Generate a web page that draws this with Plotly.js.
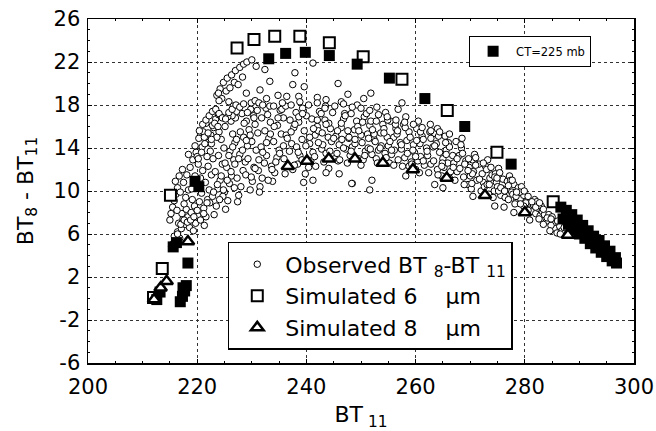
<!DOCTYPE html>
<html>
<head>
<meta charset="utf-8">
<script src="https://cdn.plot.ly/plotly-3.0.1.min.js"></script>
<style>html,body{margin:0;padding:0;background:#fff;}#chart{width:656px;height:431px;}</style>
</head>
<body>
<div id="chart"></div>
<script>
// Observed BT8-BT11
const obsX = [
215.3,215.6,215.9,216.2,215.8,216.4,216.8,217.1,216.6,217.4,
217.8,217.2,218.0,217.6,218.3,218.6,217.9,218.9,218.4,219.1,
215.0,215.2,215.5,215.8,216.1,216.4,216.0,216.7,216.3,216.9,
219.3,219.7,220.1,219.5,220.4,220.8,219.9,220.6,221.0,220.2,
221.3,221.6,221.2,221.9,222.2,221.5,222.6,222.0,222.9,222.4,
217.5,218.1,218.7,219.2,219.8,217.3,218.4,219.6,220.3,221.1,
222.0,222.5,223.0,221.6,220.9,223.4,222.8,221.3,220.0,223.9,
223.1,223.5,222.8,223.8,224.2,223.3,224.6,223.9,224.9,224.4,
225.2,225.6,225.0,225.9,226.3,225.4,226.7,226.0,226.9,226.5,
224.0,225.1,226.2,222.6,223.6,227.0,227.4,224.7,221.8,226.8,
227.6,228.0,227.3,228.4,228.8,227.8,229.2,228.5,229.5,229.0,
228.2,229.7,230.1,228.9,230.4,229.3,230.8,230.0,231.1,230.6,
231.5,231.9,231.2,232.3,232.7,231.7,233.1,232.4,233.4,232.9,
230.3,231.0,231.8,232.6,233.3,227.2,226.4,225.6,229.8,231.4,
233.8,234.2,233.6,234.6,235.0,234.0,235.4,234.7,235.8,235.2,
236.1,236.5,235.9,236.9,237.3,236.3,237.7,237.0,238.1,237.5,
238.4,238.8,238.2,239.2,239.6,238.6,240.0,239.3,240.4,239.8,
240.8,241.2,240.6,241.6,242.0,241.0,242.4,241.7,242.8,242.2,
243.2,243.6,243.0,244.0,244.4,243.4,244.8,244.1,245.2,244.6,
245.6,246.0,245.4,246.4,246.8,245.8,247.2,246.5,247.6,247.0,
248.0,248.4,247.8,248.8,249.2,248.2,249.6,248.9,250.0,249.4,
250.4,250.8,250.2,251.2,251.6,250.6,252.0,251.3,252.4,251.8,
252.8,253.2,252.6,253.6,254.0,253.0,254.4,253.7,254.8,254.2,
255.2,255.6,255.0,256.0,256.4,255.4,256.8,256.1,257.2,256.6,
257.6,258.0,257.4,258.4,258.8,257.8,259.2,258.5,259.6,259.0,
260.0,260.4,259.8,260.8,261.2,260.2,261.6,260.9,262.0,261.4,
262.4,262.8,262.2,263.2,263.6,262.6,264.0,263.3,264.4,263.8,
264.8,265.2,265.0,265.6,266.0,265.4,266.4,265.9,266.8,266.2,
267.2,267.6,267.0,268.0,268.4,267.4,268.8,268.1,269.2,268.6,
269.6,270.0,269.8,270.4,270.8,270.2,271.2,270.6,271.6,271.0,
272.0,272.4,272.2,272.8,273.2,272.6,273.6,273.0,274.0,273.4,
274.4,274.8,274.6,275.2,275.6,275.0,276.0,275.4,276.4,275.8,
276.8,277.2,277.0,277.6,278.0,277.4,278.4,277.8,278.8,278.2,
279.2,279.6,279.4,280.0,280.4,279.8,280.8,280.2,281.2,280.6,
281.6,282.0,281.8,282.4,282.8,282.2,283.2,282.6,283.6,283.0,
284.0,284.4,285.2,285.6,286.0,286.4,286.8,285.9,287.2,284.8,
223.6,224.2,224.8,225.5,226.3,227.0,227.8,228.5,229.1,230.0,
224.5,225.3,226.0,226.8,227.5,228.3,225.8,224.0,226.6,223.9,
229.0,231.5,232.4,233.3,234.8,236.4,237.9,238.6,239.6,242.0,
245.8,247.6,249.3,250.5,251.8,237.5,241.2,243.5,230.8,246.4,
254.5,256.8,258.2,260.5,262.7,264.0,266.2,268.5,252.9,257.5,
239.5,241.2,243.6,248.4,251.6,252.0,248.3,246.0,258.2,263.5,
274.5,278.0,283.4,284.6,285.0,286.5,276.2,265.0,270.5,280.9,
219.0,219.6,220.2,220.8,221.4,222.0,222.6,223.2,223.8,224.4,
222.3,223.0,223.7,224.4,225.1,225.8,226.5,227.2,227.9,228.6,
224.1,224.8,225.5,226.2,226.9,227.6,228.3,229.0,229.7,230.4,
229.9,230.6,231.3,232.0,232.7,233.4,234.1,234.8,235.5,236.2,
233.0,233.7,234.4,235.1,235.8,236.5,237.2,237.9,238.6,239.3,
237.8,238.5,239.2,239.9,240.6,241.3,242.0,242.7,243.4,244.1,
241.5,242.2,242.9,243.6,244.3,245.0,245.7,246.4,247.1,247.8,
246.1,246.8,247.5,248.2,248.9,249.6,250.3,251.0,251.7,252.4,
250.0,250.7,251.4,252.1,252.8,253.5,254.2,254.9,255.6,256.3,
254.6,255.3,256.0,256.7,257.4,258.1,258.8,259.5,260.2,260.9,
259.3,260.0,260.7,261.4,262.1,262.8,263.5,264.2,264.9,265.6,
264.1,264.8,265.5,266.2,266.9,267.6,268.3,269.0,269.7,270.4,
268.9,269.6,270.3,271.0,271.7,272.4,273.1,273.8,274.5,275.2,
273.5,274.2,274.9,275.6,276.3,277.0,277.7,278.4,279.1,279.8,
278.5,279.2,279.9,280.6,281.3,282.0,282.7,283.4,284.1,284.8,
216.4,217.0,217.6,218.2,218.8,219.4,220.0,220.6,221.2,221.8,
220.4,221.0,221.6,222.2,222.8,223.4,224.0,224.6,225.2,225.8,
226.4,227.1,227.8,228.5,229.2,229.9,230.6,231.3,232.0,232.7,
234.0,235.6,237.2,238.8,240.4,242.0,243.6,245.2,246.8,248.4,
250.0,251.6,253.2,254.8,256.4,258.0,259.6,261.2,262.8,264.4
];
const obsY = [
4.8,5.1,4.9,5.4,5.8,6.2,5.6,6.5,7.0,7.4,
6.9,7.9,8.3,8.8,7.6,6.6,9.4,8.0,10.1,9.2,
7.3,7.9,8.5,9.1,9.7,10.3,10.9,11.4,8.2,9.9,
6.3,7.0,7.7,8.6,9.0,9.8,10.6,11.2,11.9,12.5,
6.8,7.6,8.4,9.2,10.1,10.8,11.5,12.3,13.0,13.7,
10.8,11.5,12.2,12.9,13.6,12.0,13.4,14.2,14.9,15.5,
14.5,15.2,15.9,16.3,14.1,16.7,16.1,15.0,13.2,17.1,
7.8,8.6,9.5,10.2,11.0,11.8,12.5,13.3,14.0,14.8,
8.3,9.1,9.9,10.7,11.4,12.2,12.9,13.7,14.5,15.3,
15.5,16.0,16.5,14.4,15.0,16.8,9.0,9.5,13.2,10.3,
9.6,10.4,11.2,11.9,12.7,13.4,14.2,15.0,15.7,16.5,
17.2,10.1,10.9,11.5,12.2,13.0,13.8,14.6,15.4,16.2,
10.4,11.2,11.9,12.6,13.3,14.1,14.9,15.6,16.4,17.1,
17.0,17.5,16.8,17.7,17.9,17.4,17.0,16.9,17.6,9.9,
10.9,11.7,12.3,13.1,13.8,14.6,15.3,16.1,16.8,17.5,
11.6,12.3,13.0,13.7,14.4,15.2,15.9,16.6,17.3,12.0,
12.5,13.3,14.1,14.8,15.6,16.4,17.0,17.7,12.2,11.6,
12.8,13.6,14.4,15.2,16.0,16.7,17.4,12.3,13.9,15.6,
12.7,13.5,14.3,15.0,15.8,16.6,17.3,12.1,13.0,14.6,
13.5,14.3,15.1,15.9,16.7,12.8,13.9,14.8,15.6,17.2,
13.3,14.1,14.9,15.7,16.5,17.2,13.0,14.4,15.2,16.0,
12.9,13.7,14.5,15.3,16.1,16.9,13.4,14.0,14.8,16.5,
13.0,13.8,14.6,15.4,16.2,12.6,13.5,14.2,15.0,15.8,
12.6,13.4,14.2,15.0,15.8,16.5,12.9,13.8,14.5,15.3,
12.3,13.1,13.9,14.7,15.5,16.2,12.7,13.5,14.3,15.0,
12.0,12.8,13.6,14.4,15.1,15.8,12.4,13.2,14.0,14.8,
11.7,12.5,13.3,14.1,14.8,15.5,12.0,12.8,13.6,14.4,
11.4,12.2,13.0,13.8,14.5,15.1,11.8,12.6,13.3,14.1,
11.0,11.8,12.6,13.3,14.0,14.6,11.3,12.1,12.8,13.5,
10.6,11.4,12.2,12.9,13.4,10.2,11.0,11.8,12.5,13.1,
10.0,10.8,11.6,12.3,12.9,10.4,11.2,12.0,11.5,9.7,
10.0,10.8,11.6,12.1,9.6,10.4,11.1,11.7,9.4,10.2,
10.9,11.4,9.2,9.9,10.6,11.0,9.0,9.7,10.3,8.8,
9.3,9.9,10.4,8.5,9.1,9.6,8.3,8.9,8.1,9.5,
8.7,7.9,9.2,8.4,7.7,9.0,8.1,7.4,7.8,8.6,
7.2,7.8,7.0,6.5,7.2,6.7,6.3,6.1,6.6,6.8,
18.9,19.5,20.1,20.5,20.8,21.2,21.5,21.8,22.0,22.2,
18.6,19.3,19.6,20.1,19.9,20.6,18.3,18.4,17.9,19.1,
19.1,19.4,21.3,20.2,18.9,18.8,21.0,18.8,19.7,18.7,
20.0,19.0,18.0,18.6,19.1,19.9,21.9,17.9,21.6,18.3,
17.3,17.6,16.9,16.5,16.2,15.8,15.3,14.9,17.8,18.2,
10.8,11.0,11.7,10.7,10.1,11.0,10.7,11.6,11.4,10.6,
8.6,8.0,6.9,6.3,7.6,6.0,8.5,10.3,9.5,7.3,
10.2,11.4,13.0,13.6,14.4,15.4,14.8,16.3,16.0,16.9,
8.9,9.9,10.6,11.4,12.6,13.3,14.1,14.8,15.5,16.3,
9.2,10.1,11.0,11.8,12.5,13.0,13.8,14.7,15.2,16.8,
11.3,12.1,12.9,13.6,14.5,15.3,16.0,16.8,17.6,17.9,
11.0,12.0,12.7,13.5,14.2,14.9,15.5,16.2,16.9,17.2,
12.4,13.6,12.9,14.2,15.0,15.8,16.6,17.2,17.7,16.3,
13.2,14.5,15.4,16.2,13.7,14.9,15.6,16.3,17.0,15.0,
12.9,14.0,12.6,13.7,14.8,15.6,16.4,17.2,13.9,15.3,
12.4,13.3,14.9,15.7,16.5,14.0,15.4,16.6,13.8,16.2,
13.1,14.6,12.4,15.6,14.3,15.9,12.3,13.8,14.7,15.5,
12.5,13.2,11.7,12.8,13.7,14.9,14.2,15.1,12.6,13.4,
11.5,12.3,14.5,11.2,12.2,13.0,14.3,12.5,13.0,11.6,
10.6,11.9,10.7,12.4,11.1,12.6,10.6,12.2,11.3,10.0,
10.6,9.4,11.2,10.3,10.0,10.5,11.0,9.5,9.9,8.6,
9.9,8.8,10.0,8.2,9.0,8.5,8.9,8.3,7.5,7.4,
6.0,6.9,7.3,7.1,7.3,7.6,8.2,7.3,7.9,8.9,
15.6,16.2,16.6,17.0,17.4,17.6,17.2,16.8,16.7,17.3,
17.6,18.0,17.8,18.1,17.3,18.2,18.4,18.2,18.0,18.6,
17.9,18.2,18.0,18.3,18.0,18.2,18.5,17.9,18.1,17.8,
17.7,17.5,17.1,16.9,16.6,16.4,16.2,15.9,15.6,15.5
];

// Simulated 6 um (open squares)
const sim6X = [212.0, 213.6, 215.1, 227.3, 230.4, 234.2, 238.8, 244.2, 250.4, 257.5, 265.8, 274.9, 285.2];
const sim6Y = [0.1, 2.8, 9.6, 23.3, 24.1, 24.4, 24.4, 23.8, 22.5, 20.4, 17.5, 13.6, 9.0];

// CT=225 mb (filled squares)
const ctX = [212.6, 213.2, 216.9, 217.3, 217.7, 218.0, 217.4, 218.3, 215.6, 216.2, 219.6, 220.3,
  233.1, 236.2, 239.8, 244.2, 249.3, 255.2, 261.7, 269.0, 277.5,
  286.6, 287.6, 288.6, 289.6, 290.6, 291.6, 292.6, 293.6, 294.6, 295.6, 296.6,
  287.0, 288.0, 289.0, 290.0, 291.0, 292.0, 293.0, 294.0, 295.0, 296.0, 296.8];
const ctY = [-0.1, 0.6, -0.3, 0.2, 0.7, 1.2, 1.0, 3.3, 4.8, 5.2, 10.9, 10.4,
  22.3, 22.8, 22.9, 22.6, 21.8, 20.5, 18.6, 16.0, 12.5,
  8.5, 8.2, 7.8, 7.3, 6.8, 6.3, 5.8, 5.4, 4.9, 4.4, 3.8,
  7.4, 6.9, 6.4, 6.0, 5.6, 5.1, 4.7, 4.3, 3.9, 3.5, 3.3];

// Simulated 8 um (triangles)
const sim8X = [212.1, 213.3, 214.4, 218.3, 236.6, 240.1, 244.1, 248.9, 254.0, 259.5, 265.7, 272.7, 280.0, 287.9];
const sim8Y = [-0.1, 1.0, 1.6, 5.3, 12.3, 12.8, 13.0, 13.0, 12.6, 12.0, 11.2, 9.6, 8.0, 5.9];

const xTicks = [200, 220, 240, 260, 280, 300];
const yTicks = [-6, -2, 2, 6, 10, 14, 18, 22, 26];

const FONT = 'DejaVu Sans, Arial, sans-serif';
const NB = '\u00a0';

const traces = [
  {x: obsX, y: obsY, type: 'scatter', mode: 'markers', name: 'Observed BT' + NB + '<sub>8</sub>-BT' + NB + '<sub>11</sub>',
   marker: {symbol: 'circle', size: 6.5, color: '#ffffff', line: {color: '#000', width: 1}}},
  {x: sim6X, y: sim6Y, type: 'scatter', mode: 'markers', name: 'Simulated 6' + NB + NB + NB + NB + 'µm',
   marker: {symbol: 'square', size: 11, color: '#ffffff', line: {color: '#000', width: 2}}},
  {x: ctX, y: ctY, type: 'scatter', mode: 'markers', name: 'CT=225 mb', legend: 'legend2',
   marker: {symbol: 'square', size: 11, color: '#000', line: {color: '#000', width: 0}}},
  {x: sim8X, y: sim8Y, type: 'scatter', mode: 'markers', name: 'Simulated 8' + NB + NB + NB + NB + 'µm',
   marker: {symbol: 'triangle-up', size: 11, color: '#ffffff', line: {color: '#000', width: 2.5}}}
];

const axisCommon = {
  showgrid: true, gridcolor: '#333', griddash: 'dot', gridwidth: 1,
  showline: true, linecolor: '#000', linewidth: 1.5, mirror: 'ticks',
  ticks: 'inside', ticklen: 4, tickcolor: '#000', tickwidth: 1,
  zeroline: false,
  tickfont: {family: FONT, size: 21, color: '#000'}
};

const layout = {
  width: 656, height: 431,
  margin: {l: 88, r: 22, t: 19, b: 68},
  paper_bgcolor: '#fff', plot_bgcolor: '#fff',
  showlegend: true,
  xaxis: Object.assign({}, axisCommon, {
    range: [200, 300], tickvals: xTicks, ticktext: xTicks.map(String),
    ticklabelstandoff: 4,
    minor: {ticks: 'inside', ticklen: 2, dtick: 5, tickcolor: '#000', showgrid: false},
    title: {text: 'BT<sub> 11</sub>', font: {family: FONT, size: 22, color: '#000'}, standoff: 12}
  }),
  yaxis: Object.assign({}, axisCommon, {
    range: [-6, 26], tickvals: yTicks, ticktext: yTicks.map(String),
    ticklabelstandoff: 2,
    minor: {ticks: 'inside', ticklen: 2, dtick: 1, tickcolor: '#000', showgrid: false},
    title: {text: 'BT<sub>8</sub> - BT<sub>11</sub>', font: {family: FONT, size: 22, color: '#000'}, standoff: 14}
  }),
  legend: {
    x: 0.256, y: 0.352, xanchor: 'left', yanchor: 'top',
    bgcolor: '#fff', bordercolor: '#000', borderwidth: 1.5,
    font: {family: FONT, size: 22, color: '#000'},
    itemwidth: 46, tracegroupgap: 0, traceorder: 'normal'
  },
  legend2: {
    x: 0.698, y: 0.951, xanchor: 'left', yanchor: 'top',
    bgcolor: '#fff', bordercolor: '#000', borderwidth: 1,
    font: {family: FONT, size: 11.5, color: '#000'},
    itemwidth: 36
  }
};

Plotly.newPlot('chart', traces, layout, {displayModeBar: false, staticPlot: true});
</script>
</body>
</html>
